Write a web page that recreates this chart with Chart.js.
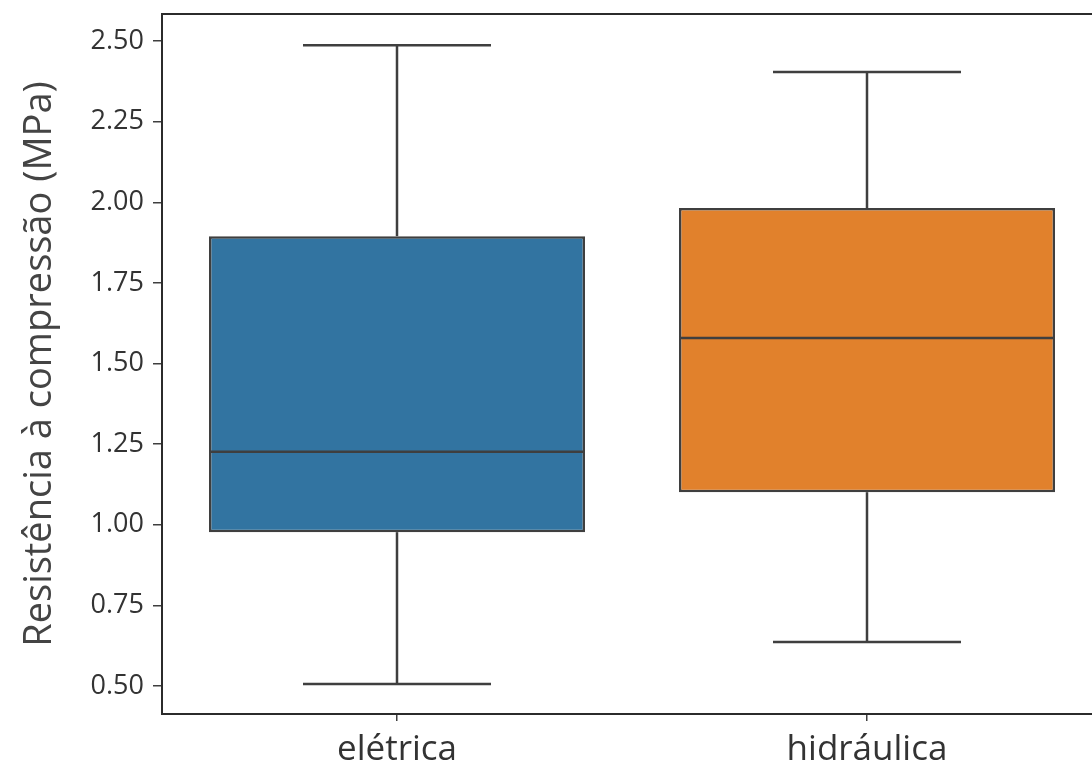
<!DOCTYPE html>
<html>
<head>
<meta charset="utf-8">
<script src="https://cdn.jsdelivr.net/npm/chart.js@4"></script>
<style>
  html, body { margin: 0; padding: 0; background: #fff; overflow: hidden; }
  #wrap { width: 1110px; height: 774px; }
</style>
</head>
<body>
<div id="wrap"><canvas id="box-chart"></canvas></div>
<script>
const categories = ["elétrica", "hidráulica"];
const whiskerLow = [0.506, 0.636];
const q1 = [0.977, 1.101];
const median = [1.226, 1.579];
const q3 = [1.895, 1.982];
const whiskerHigh = [2.487, 2.404];
const yTicks = [0.5, 0.75, 1.0, 1.25, 1.5, 1.75, 2.0, 2.25, 2.5];

const LINE = "#3f3f3f";
const FILLS = ["#3274a1", "#e1812c"];

// whiskers, caps, medians and the frame, placed through the chart scales
const boxExtras = {
  id: "boxExtras",
  afterDatasetsDraw(c) {
    const { ctx, chartArea, scales } = c;
    const x = scales.x, y = scales.y;
    const meta = c.getDatasetMeta(0);
    ctx.save();
    ctx.strokeStyle = LINE;
    ctx.lineWidth = 2.5;
    ctx.lineCap = "butt";
    categories.forEach((cat, i) => {
      const cx = x.getPixelForValue(i);
      const half = meta.data[i].width / 2;
      const capHalf = half / 2;
      const seg = (x1, y1, x2, y2) => {
        ctx.beginPath();
        ctx.moveTo(x1, y1);
        ctx.lineTo(x2, y2);
        ctx.stroke();
      };
      seg(cx, y.getPixelForValue(q3[i]), cx, y.getPixelForValue(whiskerHigh[i]));
      seg(cx, y.getPixelForValue(q1[i]), cx, y.getPixelForValue(whiskerLow[i]));
      seg(cx - capHalf, y.getPixelForValue(whiskerHigh[i]), cx + capHalf, y.getPixelForValue(whiskerHigh[i]));
      seg(cx - capHalf, y.getPixelForValue(whiskerLow[i]), cx + capHalf, y.getPixelForValue(whiskerLow[i]));
      seg(cx - half, y.getPixelForValue(median[i]), cx + half, y.getPixelForValue(median[i]));
    });
    ctx.strokeStyle = "#2b2b2b";
    ctx.lineWidth = 2;
    ctx.strokeRect(chartArea.left, chartArea.top, chartArea.right - chartArea.left, chartArea.bottom - chartArea.top);
    ctx.restore();
  }
};

new Chart(document.getElementById("box-chart").getContext("2d"), {
  type: "bar",
  data: {
    labels: categories,
    datasets: [{
      label: "boxes",
      data: q1.map((v, i) => [v, q3[i]]),
      backgroundColor: FILLS,
      borderColor: LINE,
      borderWidth: 2.5,
      borderSkipped: false,
      barPercentage: 0.8,
      categoryPercentage: 1.0,
    }],
  },
  options: {
    responsive: true,
    maintainAspectRatio: false,
    animation: false,
    layout: { padding: { top: 14, right: 8, left: 0, bottom: 0 } },
    plugins: {
      legend: { display: false },
      tooltip: { enabled: false },
    },
    scales: {
      x: {
        offset: true,
        grid: { display: true, offset: false, drawOnChartArea: false, tickLength: 7, color: LINE, lineWidth: 1.5 },
        border: { display: false },
        ticks: { color: "#333", padding: 8, font: { family: "Open Sans", size: 35 } },
        afterFit(s) { s.height = 60; s.paddingLeft = 0; s.paddingRight = 0; },
      },
      y: {
        min: 0.413,
        max: 2.584,
        grid: { display: true, drawOnChartArea: false, tickLength: 9, color: LINE, lineWidth: 1.5 },
        border: { display: false },
        afterBuildTicks(s) { s.ticks = yTicks.map(v => ({ value: v })); },
        ticks: {
          color: "#333",
          padding: 9,
          font: { family: "Open Sans", size: 27 },
          callback: v => Number(v).toFixed(2),
        },
        title: {
          display: true,
          text: "Resistência à compressão (MPa)",
          color: "#444",
          padding: { top: 17, bottom: 0 },
          font: { family: "Open Sans", size: 38 },
        },
        afterFit(s) { s.width = 162; s.paddingTop = 0; s.paddingBottom = 0; },
      },
    },
  },
  plugins: [boxExtras],
});
</script>
</body>
</html>
